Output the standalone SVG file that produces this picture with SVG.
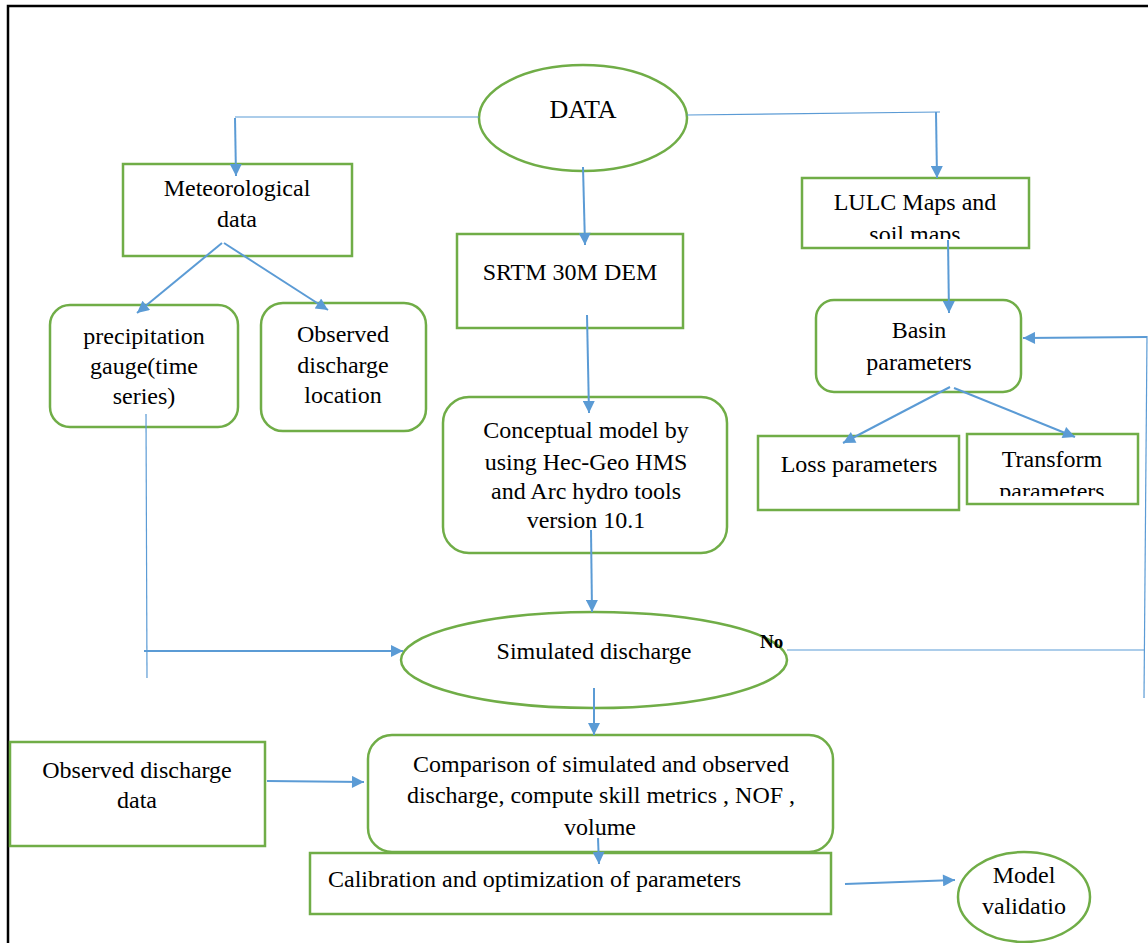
<svg xmlns="http://www.w3.org/2000/svg" width="1148" height="943" viewBox="0 0 1148 943">
<defs>
<style>
.box{fill:#fff;stroke:#70AD47;stroke-width:2.5}
.t{font-family:'Liberation Serif',serif;font-size:24px;fill:#000;text-anchor:middle}
.c{fill:none;stroke:#5B9BD5;stroke-width:2}
.thin{fill:none;stroke:#5B9BD5;stroke-width:1.2}
</style>
<marker id="ah" viewBox="0 0 10 10" refX="10" refY="5" markerWidth="14" markerHeight="12" markerUnits="userSpaceOnUse" orient="auto">
<path d="M0,0 L10,5 L0,10 z" fill="#5B9BD5"/>
</marker>
<clipPath id="clipLulc"><rect x="802" y="178" width="228" height="61"/></clipPath>
<clipPath id="clipTrans"><rect x="967" y="434" width="172" height="62"/></clipPath>
</defs>
<rect width="1148" height="943" fill="#fff"/>
<path d="M8,943 L8,6 L1148,6" fill="none" stroke="#000" stroke-width="2.5"/>

<g id="data"><ellipse class="box" cx="583" cy="118" rx="104" ry="53"/><text class="t" x="583" y="118" style="font-size:26px">DATA</text></g>
<g id="meteo"><rect class="box" x="123" y="164" width="229" height="92"/><text class="t" x="237" y="196">Meteorological</text><text class="t" x="237" y="227">data</text></g>
<g id="srtm"><rect class="box" x="457" y="234" width="226" height="94"/><text class="t" x="570" y="280">SRTM 30M DEM</text></g>
<g id="lulc"><rect class="box" x="802" y="178" width="227" height="70"/><g clip-path="url(#clipLulc)"><text class="t" x="915" y="210">LULC Maps and</text><text class="t" x="915" y="242">soil maps</text></g></g>
<g id="precip"><rect class="box" x="50" y="305" width="188" height="122" rx="20"/><text class="t" x="144" y="344">precipitation</text><text class="t" x="144" y="374">gauge(time</text><text class="t" x="144" y="404">series)</text></g>
<g id="obsloc"><rect class="box" x="261" y="303" width="165" height="128" rx="22"/><text class="t" x="343" y="342">Observed</text><text class="t" x="343" y="373">discharge</text><text class="t" x="343" y="403">location</text></g>
<g id="basin"><rect class="box" x="816" y="300" width="205" height="92" rx="18"/><text class="t" x="919" y="338">Basin</text><text class="t" x="919" y="370">parameters</text></g>
<g id="concept"><rect class="box" x="443" y="397" width="284" height="156" rx="26"/><text class="t" x="586" y="438">Conceptual model by</text><text class="t" x="586" y="470">using Hec-Geo HMS</text><text class="t" x="586" y="499">and Arc hydro tools</text><text class="t" x="586" y="528">version 10.1</text></g>
<g id="loss"><rect class="box" x="758" y="436" width="201" height="74"/><text class="t" x="859" y="472">Loss parameters</text></g>
<g id="transform"><rect class="box" x="967" y="434" width="171" height="70"/><g clip-path="url(#clipTrans)"><text class="t" x="1052" y="467">Transform</text><text class="t" x="1052" y="499">parameters</text></g></g>
<g id="simulated"><ellipse class="box" cx="594" cy="660" rx="193" ry="48"/><text class="t" x="594" y="659">Simulated discharge</text></g>
<g id="no"><text x="760" y="648" font-family="'Liberation Serif', serif" font-size="19" font-weight="bold">No</text></g>
<g id="obsdata"><rect class="box" x="10" y="742" width="255" height="104"/><text class="t" x="137" y="778">Observed discharge</text><text class="t" x="137" y="808">data</text></g>
<g id="compare"><rect class="box" x="368" y="735" width="465" height="117" rx="24"/><text class="t" x="601" y="772">Comparison of simulated and observed</text><text class="t" x="601" y="803">discharge, compute skill metrics , NOF ,</text><text class="t" x="600" y="835">volume</text></g>
<g id="calib"><rect class="box" x="310" y="853" width="521" height="61"/><text class="t" x="328" y="887" style="text-anchor:start">Calibration and optimization of parameters</text></g>
<g id="validation"><ellipse class="box" cx="1024" cy="897" rx="66" ry="45"/><text class="t" x="1024" y="883">Model</text><text class="t" x="1024" y="914">validatio</text></g>

<g id="connectors">
<path class="thin" d="M479,117 L235,117"/>
<path class="c" d="M235,118 L236,176" marker-end="url(#ah)"/>
<path class="thin" d="M687,115 L940,112"/>
<path class="c" d="M936,112 L937,178" marker-end="url(#ah)"/>
<path class="c" d="M583,167 L585,245" marker-end="url(#ah)"/>
<path class="c" d="M222,243 L137,313" marker-end="url(#ah)"/>
<path class="c" d="M224,243 L328,310" marker-end="url(#ah)"/>
<path class="c" d="M948,240 L949,313" marker-end="url(#ah)"/>
<path class="c" d="M950,387 L843,443" marker-end="url(#ah)"/>
<path class="c" d="M954,388 L1075,437" marker-end="url(#ah)"/>
<path class="c" d="M587,315 L589,413" marker-end="url(#ah)"/>
<path class="c" d="M591,530 L592,612" marker-end="url(#ah)"/>
<path class="thin" d="M146,414 L147,678"/>
<path class="c" d="M144,651 L403,651" marker-end="url(#ah)"/>
<path class="thin" d="M787,650 L1145,650"/>
<path class="thin" d="M1144,698 L1147,336"/>
<path class="c" d="M1147,337 L1023,338" marker-end="url(#ah)"/>
<path class="c" d="M594,688 L594,735" marker-end="url(#ah)"/>
<path class="c" d="M267,781 L364,782" marker-end="url(#ah)"/>
<path class="c" d="M598,838 L599,864" marker-end="url(#ah)"/>
<path class="c" d="M845,884 L955,880" marker-end="url(#ah)"/>
</g>
</svg>
